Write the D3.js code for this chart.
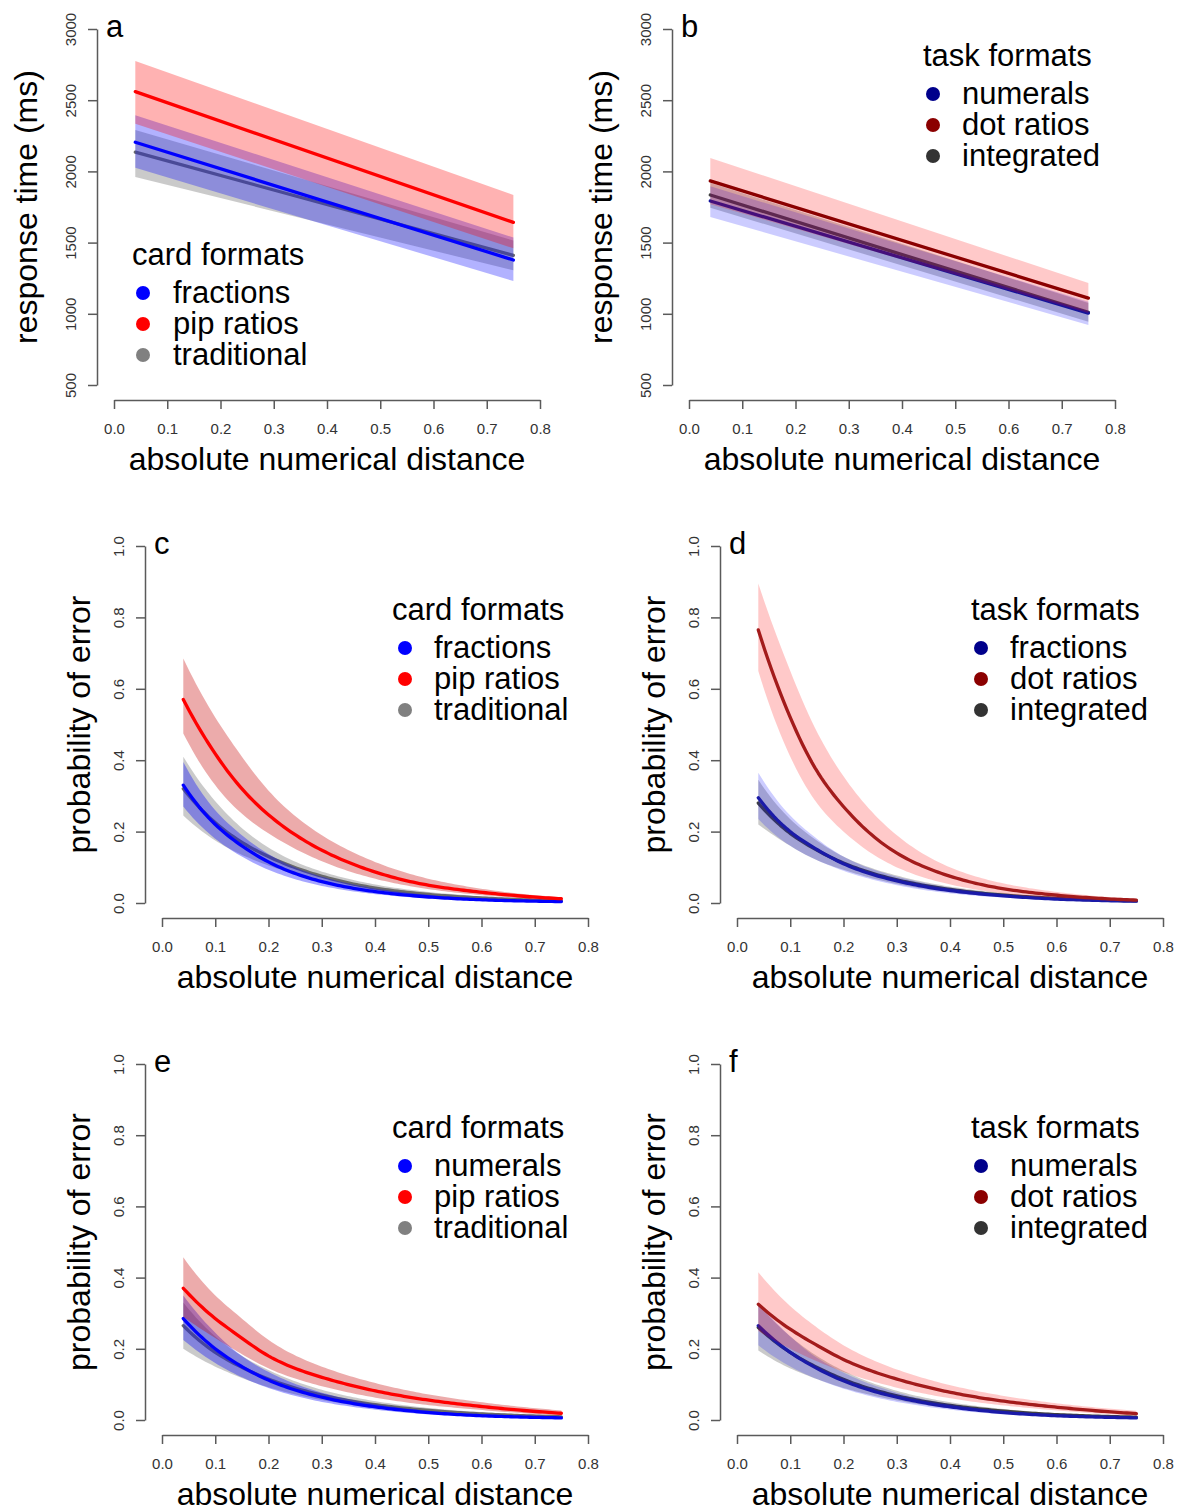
<!DOCTYPE html>
<html>
<head>
<meta charset="utf-8">
<script src="https://cdn.jsdelivr.net/npm/d3@7"></script>
<style>
  body { margin: 0; background: #fff; }
  svg { display: block; font-family: "Liberation Sans", Arial, Helvetica, sans-serif; }
</style>
</head>
<body>
<svg id="fig" width="1178" height="1510"></svg>
<script>
// ---------- axis ticks ----------
const xTicks = [0, 0.1, 0.2, 0.3, 0.4, 0.5, 0.6, 0.7, 0.8];
const rtTicks = [500, 1000, 1500, 2000, 2500, 3000];
const probTicks = [0, 0.2, 0.4, 0.6, 0.8, 1.0];

// distances at which the model predictions are given
const xLin = [0.04, 0.75];
const xCurve = [0.04, 0.1, 0.15, 0.2, 0.3, 0.4, 0.5, 0.6, 0.75];

// ---------- panel a: response time by card format ----------
const aTradMid = [2135, 1410], aTradLo = [1960, 1305], aTradHi = [2290, 1515];
const aFracMid = [2205, 1378], aFracLo = [2025, 1230], aFracHi = [2395, 1535];
const aPipMid  = [2560, 1642], aPipLo  = [2335, 1460], aPipHi  = [2775, 1835];

// ---------- panel b: response time by task format ----------
const bIntMid = [1834, 1010], bIntLo = [1745, 945],  bIntHi = [1920, 1075];
const bNumMid = [1792, 1005], bNumLo = [1680, 922],  bNumHi = [1895, 1085];
const bDotMid = [1933, 1110], bDotLo = [1770, 1005], bDotHi = [2094, 1216];

// ---------- panel c: error probability by card format ----------
const cTradMid = [0.32, 0.225, 0.17, 0.13, 0.075, 0.042, 0.024, 0.014, 0.006];
const cTradLo  = [0.245, 0.175, 0.135, 0.105, 0.06, 0.032, 0.017, 0.009, 0.004];
const cTradHi  = [0.41, 0.285, 0.21, 0.155, 0.088, 0.052, 0.031, 0.019, 0.009];
const cFracMid = [0.33, 0.22, 0.16, 0.115, 0.06, 0.032, 0.017, 0.009, 0.004];
const cFracLo  = [0.27, 0.18, 0.13, 0.093, 0.048, 0.025, 0.013, 0.006, 0.002];
const cFracHi  = [0.395, 0.26, 0.19, 0.137, 0.074, 0.041, 0.023, 0.013, 0.006];
const cPipMid  = [0.57, 0.418, 0.32, 0.247, 0.148, 0.087, 0.05, 0.03, 0.012];
const cPipLo   = [0.475, 0.33, 0.25, 0.195, 0.117, 0.068, 0.039, 0.022, 0.008];
const cPipHi   = [0.685, 0.52, 0.41, 0.315, 0.19, 0.115, 0.068, 0.04, 0.016];

// ---------- panel d: error probability by task format ----------
const dIntMid = [0.28, 0.195, 0.148, 0.112, 0.065, 0.038, 0.022, 0.013, 0.006];
const dIntLo  = [0.22, 0.16, 0.12, 0.093, 0.053, 0.03, 0.017, 0.009, 0.004];
const dIntHi  = [0.345, 0.235, 0.175, 0.13, 0.077, 0.046, 0.028, 0.017, 0.008];
const dFracMid = [0.295, 0.2, 0.15, 0.11, 0.062, 0.035, 0.02, 0.011, 0.005];
const dFracLo  = [0.235, 0.16, 0.12, 0.09, 0.05, 0.027, 0.015, 0.008, 0.003];
const dFracHi  = [0.365, 0.245, 0.18, 0.13, 0.074, 0.043, 0.025, 0.014, 0.007];
const dDotMid = [0.765, 0.52, 0.37, 0.27, 0.14, 0.075, 0.04, 0.022, 0.008];
const dDotLo  = [0.65, 0.41, 0.28, 0.2, 0.1, 0.052, 0.027, 0.014, 0.005];
const dDotHi  = [0.895, 0.65, 0.48, 0.355, 0.19, 0.1, 0.055, 0.031, 0.012];

// ---------- panel e: error probability by card format ----------
const eTradMid = [0.265, 0.19, 0.148, 0.115, 0.07, 0.043, 0.027, 0.017, 0.009];
const eTradLo  = [0.2, 0.15, 0.118, 0.092, 0.056, 0.034, 0.021, 0.013, 0.006];
const eTradHi  = [0.33, 0.235, 0.18, 0.14, 0.085, 0.053, 0.034, 0.022, 0.012];
const eNumMid = [0.285, 0.2, 0.15, 0.112, 0.064, 0.037, 0.021, 0.012, 0.006];
const eNumLo  = [0.225, 0.16, 0.12, 0.09, 0.051, 0.029, 0.016, 0.009, 0.004];
const eNumHi  = [0.35, 0.245, 0.18, 0.135, 0.077, 0.045, 0.026, 0.015, 0.008];
const ePipMid = [0.37, 0.285, 0.23, 0.18, 0.12, 0.082, 0.056, 0.038, 0.019];
const ePipLo  = [0.29, 0.23, 0.185, 0.145, 0.095, 0.063, 0.042, 0.028, 0.013];
const ePipHi  = [0.457, 0.35, 0.285, 0.225, 0.15, 0.104, 0.072, 0.05, 0.027];

// ---------- panel f: error probability by task format ----------
const fIntMid = [0.26, 0.19, 0.148, 0.114, 0.068, 0.041, 0.025, 0.015, 0.008];
const fIntLo  = [0.195, 0.145, 0.115, 0.09, 0.055, 0.033, 0.02, 0.012, 0.006];
const fIntHi  = [0.325, 0.235, 0.18, 0.138, 0.082, 0.05, 0.031, 0.019, 0.01];
const fNumMid = [0.265, 0.19, 0.145, 0.11, 0.064, 0.037, 0.021, 0.012, 0.006];
const fNumLo  = [0.21, 0.15, 0.115, 0.088, 0.051, 0.029, 0.016, 0.009, 0.004];
const fNumHi  = [0.33, 0.235, 0.175, 0.133, 0.077, 0.045, 0.026, 0.015, 0.008];
const fDotMid = [0.325, 0.255, 0.21, 0.17, 0.115, 0.078, 0.053, 0.036, 0.018];
const fDotLo  = [0.25, 0.2, 0.165, 0.135, 0.091, 0.061, 0.041, 0.027, 0.012];
const fDotHi  = [0.415, 0.32, 0.26, 0.21, 0.142, 0.098, 0.068, 0.047, 0.026];

// ---------- legend labels ----------
const cardTitle = "card formats", taskTitle = "task formats";
const labelsA = ["fractions", "pip ratios", "traditional"];
const labelsB = ["numerals", "dot ratios", "integrated"];
const labelsC = ["fractions", "pip ratios", "traditional"];
const labelsD = ["fractions", "dot ratios", "integrated"];
const labelsE = ["numerals", "pip ratios", "traditional"];
const labelsF = ["numerals", "dot ratios", "integrated"];

// ---------- styles ----------
const cardStyle = {
  dots: ["#0000ff", "#ff0000", "#808080"],
  gray: { band: "#808080", alpha: 0.42, line: "#6a6a6a" },
  blue: { band: "#0000ff", alpha: 0.3, line: "#0000ff" },
  red:  { band: "#ff0000", alpha: 0.3, line: "#ff0000" }
};
const cardStyleP = {
  dots: ["#0000ff", "#ff0000", "#808080"],
  gray: { band: "#808080", alpha: 0.42, line: "#6a6a6a" },
  blue: { band: "#0000ff", alpha: 0.35, line: "#0000ff" },
  red:  { band: "#c50000", alpha: 0.33, line: "#ff0000" }
};
const taskStyle = {
  dots: ["#00008b", "#8b0000", "#333333"],
  gray: { band: "#808080", alpha: 0.42, line: "#404040" },
  blue: { band: "#0000ff", alpha: 0.2, line: "#14149c" },
  red:  { band: "#ff0000", alpha: 0.21, line: "#8b0000" }
};
const taskStyleP = {
  dots: ["#00008b", "#8b0000", "#333333"],
  gray: { band: "#808080", alpha: 0.42, line: "#404040" },
  blue: { band: "#0000ff", alpha: 0.2, line: "#1a1aa8" },
  red:  { band: "#ff0000", alpha: 0.21, line: "#a31b1b" }
};

function series(xs, mid, lo, hi) { return { xs, mid, lo, hi }; }

const rtLayout = { yDomain: [500, 3000], yTicks: rtTicks, yFmt: d3.format(".0f"),
                   ylab: "response time (ms)", ylabOff: 77 };
const prLayout = { yDomain: [0, 1], yTicks: probTicks, yFmt: d3.format(".1f"),
                   ylab: "probability of error", ylabOff: 72 };

const panels = [
  Object.assign({ letter: "a", x0: 114, yTop: 29, yBottom: 385, style: cardStyle, smooth: false,
    title: cardTitle, labels: labelsA, legX: 18, legDot: 29, legText: 59, legY: 236,
    gray: series(xLin, aTradMid, aTradLo, aTradHi),
    blue: series(xLin, aFracMid, aFracLo, aFracHi),
    red: series(xLin, aPipMid, aPipLo, aPipHi) }, rtLayout),
  Object.assign({ letter: "b", x0: 689, yTop: 29, yBottom: 385, style: taskStyle, smooth: false,
    title: taskTitle, labels: labelsB, legX: 234, legDot: 244, legText: 273, legY: 37,
    gray: series(xLin, bIntMid, bIntLo, bIntHi),
    blue: series(xLin, bNumMid, bNumLo, bNumHi),
    red: series(xLin, bDotMid, bDotLo, bDotHi) }, rtLayout),
  Object.assign({ letter: "c", x0: 162, yTop: 546, yBottom: 903, style: cardStyleP, smooth: true,
    title: cardTitle, labels: labelsC, legX: 230, legDot: 243, legText: 272, legY: 74,
    gray: series(xCurve, cTradMid, cTradLo, cTradHi),
    blue: series(xCurve, cFracMid, cFracLo, cFracHi),
    red: series(xCurve, cPipMid, cPipLo, cPipHi) }, prLayout),
  Object.assign({ letter: "d", x0: 737, yTop: 546, yBottom: 903, style: taskStyleP, smooth: true,
    title: taskTitle, labels: labelsD, legX: 234, legDot: 244, legText: 273, legY: 74,
    gray: series(xCurve, dIntMid, dIntLo, dIntHi),
    blue: series(xCurve, dFracMid, dFracLo, dFracHi),
    red: series(xCurve, dDotMid, dDotLo, dDotHi) }, prLayout),
  Object.assign({ letter: "e", x0: 162, yTop: 1064, yBottom: 1420, style: cardStyleP, smooth: true,
    title: cardTitle, labels: labelsE, legX: 230, legDot: 243, legText: 272, legY: 74,
    gray: series(xCurve, eTradMid, eTradLo, eTradHi),
    blue: series(xCurve, eNumMid, eNumLo, eNumHi),
    red: series(xCurve, ePipMid, ePipLo, ePipHi) }, prLayout),
  Object.assign({ letter: "f", x0: 737, yTop: 1064, yBottom: 1420, style: taskStyleP, smooth: true,
    title: taskTitle, labels: labelsF, legX: 234, legDot: 244, legText: 273, legY: 74,
    gray: series(xCurve, fIntMid, fIntLo, fIntHi),
    blue: series(xCurve, fNumMid, fNumLo, fNumHi),
    red: series(xCurve, fDotMid, fDotLo, fDotHi) }, prLayout)
];

// Natural cubic spline through (xs, ys), evaluated on log(y) so the
// decaying probability curves stay smooth and positive.
function logSpline(xs, ys) {
  const n = xs.length, v = ys.map(Math.log);
  const h = d3.range(n - 1).map(i => xs[i + 1] - xs[i]);
  const M = new Array(n).fill(0);
  if (n > 2) {
    const a = [], b = [], c = [], r = [];
    for (let i = 1; i < n - 1; i++) {
      a.push(h[i - 1]); b.push(2 * (h[i - 1] + h[i])); c.push(h[i]);
      r.push(6 * ((v[i + 1] - v[i]) / h[i] - (v[i] - v[i - 1]) / h[i - 1]));
    }
    const m = b.length;
    for (let i = 1; i < m; i++) {
      const w = a[i] / b[i - 1];
      b[i] -= w * c[i - 1]; r[i] -= w * r[i - 1];
    }
    const sol = new Array(m);
    sol[m - 1] = r[m - 1] / b[m - 1];
    for (let i = m - 2; i >= 0; i--) sol[i] = (r[i] - c[i] * sol[i + 1]) / b[i];
    for (let i = 0; i < m; i++) M[i + 1] = sol[i];
  }
  return x => {
    let i = Math.min(n - 2, Math.max(0, d3.bisectRight(xs, x) - 1));
    const t0 = xs[i + 1] - x, t1 = x - xs[i], hi = h[i];
    const val = M[i] * t0 * t0 * t0 / (6 * hi) + M[i + 1] * t1 * t1 * t1 / (6 * hi)
      + (v[i] / hi - M[i] * hi / 6) * t0 + (v[i + 1] / hi - M[i + 1] * hi / 6) * t1;
    return Math.exp(val);
  };
}

const svg = d3.select("#fig");
const AXIS_COL = "#5a5a5a", TICK_TXT = "#333";

function drawPanel(p) {
  const g = svg.append("g").attr("class", "panel-" + p.letter);
  const x = d3.scaleLinear().domain([0, 0.8]).range([p.x0, p.x0 + 426]);
  const y = d3.scaleLinear().domain(p.yDomain).range([p.yBottom, p.yTop]);
  const axisX = p.x0 - 17, axisY = p.yBottom + 15;

  // confidence bands and fitted lines: traditional/integrated first, then blue, then red
  ["gray", "blue", "red"].forEach(k => {
    const s = p[k], st = p.style[k];
    let pts;
    if (p.smooth) {
      const fm = logSpline(s.xs, s.mid), fl = logSpline(s.xs, s.lo), fh = logSpline(s.xs, s.hi);
      const x0 = s.xs[0], x1 = s.xs[s.xs.length - 1];
      pts = d3.range(0, 121).map(j => {
        const xv = x0 + (x1 - x0) * j / 120;
        return { x: xv, m: fm(xv), lo: fl(xv), hi: fh(xv) };
      });
    } else {
      pts = s.xs.map((xv, i) => ({ x: xv, m: s.mid[i], lo: s.lo[i], hi: s.hi[i] }));
    }
    g.append("path").datum(pts)
      .attr("d", d3.area().x(d => x(d.x)).y0(d => y(d.lo)).y1(d => y(d.hi)))
      .attr("fill", st.band).attr("fill-opacity", st.alpha).attr("stroke", "none");
    g.append("path").datum(pts)
      .attr("d", d3.line().x(d => x(d.x)).y(d => y(d.m)))
      .attr("fill", "none").attr("stroke", st.line).attr("stroke-width", 3.3)
      .attr("stroke-linecap", "round").attr("stroke-linejoin", "round");
  });

  // x axis
  const gx = g.append("g").attr("transform", `translate(0,${axisY})`)
    .call(d3.axisBottom(x).tickValues(xTicks).tickSize(9).tickSizeOuter(0).tickFormat(d3.format(".1f")));
  gx.select(".domain").attr("stroke", AXIS_COL).attr("stroke-width", 1.5);
  gx.selectAll(".tick line").attr("stroke", AXIS_COL).attr("stroke-width", 1.5);
  gx.selectAll(".tick text").attr("y", 33.5).attr("dy", 0).attr("fill", TICK_TXT)
    .attr("font-size", 15).attr("font-family", "Liberation Sans, Arial, sans-serif");

  // y axis, labels parallel to the axis
  const gy = g.append("g").attr("transform", `translate(${axisX},0)`)
    .call(d3.axisLeft(y).tickValues(p.yTicks).tickSize(9).tickSizeOuter(0).tickFormat(p.yFmt));
  gy.select(".domain").attr("stroke", AXIS_COL).attr("stroke-width", 1.5);
  gy.selectAll(".tick line").attr("stroke", AXIS_COL).attr("stroke-width", 1.5);
  gy.selectAll(".tick text")
    .attr("x", 0).attr("y", -21.5).attr("dy", 0)
    .attr("transform", "rotate(-90)").attr("text-anchor", "middle")
    .attr("fill", TICK_TXT).attr("font-size", 15)
    .attr("font-family", "Liberation Sans, Arial, sans-serif");

  // axis titles
  g.append("text").attr("x", x(0.4)).attr("y", p.yBottom + 85)
    .attr("text-anchor", "middle").attr("font-size", 32).attr("fill", "#000")
    .text("absolute numerical distance");
  const ly = (p.yTop + p.yBottom) / 2, lx = p.x0 - p.ylabOff;
  g.append("text").attr("transform", `translate(${lx},${ly}) rotate(-90)`)
    .attr("text-anchor", "middle").attr("font-size", 32).attr("fill", "#000")
    .text(p.ylab);

  // panel letter
  g.append("text").attr("x", p.x0 - 8).attr("y", p.yTop + 8)
    .attr("font-size", 31).attr("fill", "#000").text(p.letter);

  // legend
  const lg = g.append("g");
  lg.append("text").attr("x", p.x0 + p.legX).attr("y", p.yTop + p.legY)
    .attr("font-size", 31).attr("fill", "#000").text(p.title);
  p.labels.forEach((lab, i) => {
    const by = p.yTop + p.legY + 38 + i * 31;
    lg.append("circle").attr("cx", p.x0 + p.legDot).attr("cy", by - 10).attr("r", 7)
      .attr("fill", p.style.dots[i]);
    lg.append("text").attr("x", p.x0 + p.legText).attr("y", by)
      .attr("font-size", 31).attr("fill", "#000").text(lab);
  });
}

panels.forEach(drawPanel);
</script>
</body>
</html>
